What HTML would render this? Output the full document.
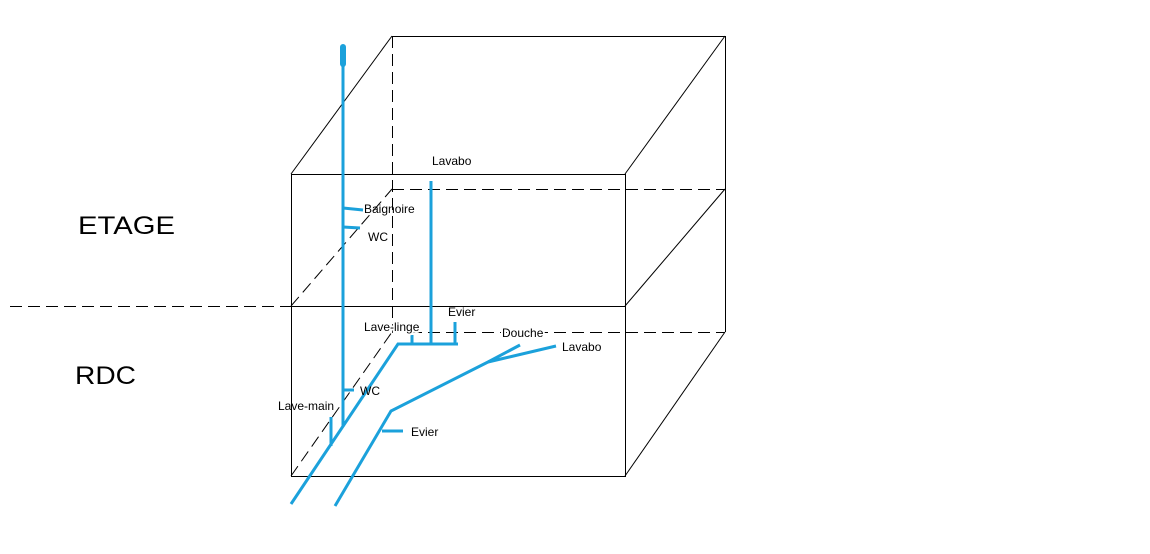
<!DOCTYPE html>
<html><head><style>
body{margin:0;background:#fff;width:1150px;height:549px;overflow:hidden}
svg text{font-family:"Liberation Sans",sans-serif;font-size:12px;fill:#000}
.bg{stroke:#fff;stroke-width:4px;paint-order:stroke}
</style></head><body>
<svg width="1150" height="549" viewBox="0 0 1150 549">
<g stroke="#000" stroke-width="1" fill="none">
<rect x="291.5" y="174.5" width="334" height="302"/>
<line x1="291" y1="306.5" x2="625" y2="306.5"/>
<line x1="392" y1="36.5" x2="725" y2="36.5"/>
<line x1="725.5" y1="36" x2="725.5" y2="332"/>
<line x1="291" y1="174" x2="392" y2="36"/>
<line x1="625" y1="174" x2="725" y2="36"/>
<line x1="625" y1="306" x2="725" y2="189"/>
<line x1="625" y1="476" x2="725" y2="332"/>
<g stroke-dasharray="12,6">
<line x1="10" y1="306.5" x2="291" y2="306.5"/>
<line x1="392.5" y1="36" x2="392.5" y2="332"/>
<line x1="392" y1="189.5" x2="725" y2="189.5"/>
<line x1="392" y1="332.5" x2="725" y2="332.5"/>
<line x1="291" y1="306" x2="392" y2="189"/>
<line x1="291" y1="476" x2="392" y2="332"/>
</g>
</g>
<g stroke="#1ba1db" stroke-width="3" fill="none" stroke-linecap="butt">
<line x1="343" y1="60" x2="343" y2="427"/>
<line x1="343" y1="208" x2="363" y2="210"/>
<line x1="343" y1="227" x2="360" y2="228"/>
<line x1="343" y1="390" x2="354" y2="390"/>
<polyline points="291,504 398,344 458,344"/>
<line x1="431" y1="181" x2="431" y2="345"/>
<line x1="455" y1="322" x2="455" y2="344"/>
<line x1="412" y1="335" x2="412" y2="344"/>
<line x1="331" y1="417" x2="331" y2="446"/>
<polyline points="335,506 391,411 488,362 520,345"/>
<line x1="488" y1="362" x2="556" y2="346"/>
<line x1="382" y1="431" x2="403" y2="431"/>
</g>
<rect x="340" y="44" width="6" height="23" rx="3" fill="#1ba1db"/>
<text x="78" y="234" style="font-size:25px" textLength="97" lengthAdjust="spacingAndGlyphs">ETAGE</text>
<text x="75" y="384" style="font-size:25px" textLength="61" lengthAdjust="spacingAndGlyphs">RDC</text>
<text x="432" y="165">Lavabo</text>
<text x="364" y="213">Baignoire</text>
<text x="368" y="241">WC</text>
<text x="448" y="316">Evier</text>
<text class="bg" x="364" y="331">Lave-linge</text>
<text class="bg" x="502" y="337">Douche</text>
<text x="562" y="351">Lavabo</text>
<text x="360" y="395">WC</text>
<text x="278" y="410">Lave-main</text>
<text x="411" y="436">Evier</text>
</svg>
</body></html>
